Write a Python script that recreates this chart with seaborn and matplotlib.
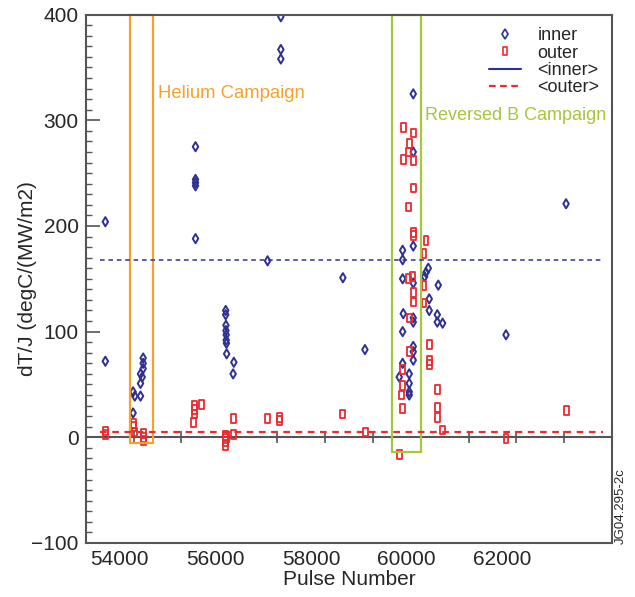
import numpy as np
import pandas as pd
import matplotlib
matplotlib.use("Agg")
import matplotlib.pyplot as plt
import seaborn as sns
from matplotlib.path import Path
from matplotlib.patches import Rectangle
from matplotlib.lines import Line2D
from matplotlib.ticker import MultipleLocator
from matplotlib.transforms import ScaledTranslation

# inner divertor points (pulse, dT/J)
inner_pulse = [53410, 53410,
               53990, 53990, 54025, 54145, 54145, 54145, 54180, 54200, 54200, 54200,
               55294, 55294, 55294, 55294, 55294,
               55925, 55925, 55930, 55930, 55935, 55935, 55940, 55945, 56095, 56080,
               56800, 57077, 57077, 57077, 58374, 58834,
               59844, 59844, 59844, 59622, 59622, 60158, 60110, 60082, 59622, 59844,
               60367, 60178, 60178, 59635, 59844, 59844, 60346, 60346, 60458, 59622,
               59844, 59844, 59844, 59622, 59760, 59551, 59760, 59760, 59760,
               61782, 63037]
inner_dtj = [204, 72,
             23, 43, 39, 39, 51, 60, 57, 65, 75, 70,
             275, 244, 241, 238, 188,
             120, 116, 106, 101, 97, 92, 89, 79, 71, 60,
             167, 398, 367, 358, 151, 83,
             325, 270, 181, 177, 168, 160, 156, 152, 150, 146,
             144, 131, 120, 117, 113, 109, 116, 109, 108, 100,
             86, 81, 73, 70, 60, 57, 51, 43, 40,
             97, 221]

# outer divertor points (pulse, dT/J)
outer_pulse = [53410, 53410,
               53990, 53990, 54025, 54200, 54200, 54200,
               55265, 55280, 55280, 55250, 55419,
               55921, 55921, 55921, 55921, 56080, 56095,
               56800, 57057, 57057, 58374, 58855,
               59635, 59844, 59760, 59740, 59635, 59844, 59844, 59754, 59844, 59844,
               60110, 60068, 59831, 59740, 60068, 59844, 59844, 60068, 59760, 60178,
               59760, 60178, 60178, 59622, 59622, 59601, 59622, 60352, 60346, 60346,
               60450, 59551,
               61782, 63037]
outer_dtj = [6, 3,
             13, 10, 5, 3.5, 0, -3,
             30, 26, 22, 14, 31,
             2, -1, -4, -8, 18, 2.5,
             18, 19, 16, 22, 5,
             293, 288, 278, 270, 263, 262, 236, 218, 194, 191,
             186, 174, 152, 150, 144, 137, 128, 127, 113, 88,
             81, 73, 69, 64, 49, 40, 27, 45, 28, 19,
             7, -16,
             -1, 25]

inner_mean = 168
outer_mean = 5
mean_span = (53300, 63800)

helium_pulses = (53920, 54410)
reversed_b_pulses = (59410, 60000)

x_ticks = [54000, 56000, 58000, 60000, 62000]
y_ticks = [-100, 0, 100, 200, 300, 400]

BLUE = "#2e3192"
RED = "#ee2a2f"
ORANGE = "#f7a12b"
GREEN = "#a4c73c"
AXIS_GRAY = "#555555"

sns.set_style("white")
plt.rcParams["font.family"] = ["Liberation Sans", "DejaVu Sans"]

# narrow hollow rectangle for outer points
rect_marker = Path([(-0.28, -0.5), (0.28, -0.5), (0.28, 0.5), (-0.28, 0.5), (-0.28, -0.5)],
                   [Path.MOVETO, Path.LINETO, Path.LINETO, Path.LINETO, Path.CLOSEPOLY])

inner_df = pd.DataFrame({"pulse": inner_pulse, "dtj": inner_dtj})
outer_df = pd.DataFrame({"pulse": outer_pulse, "dtj": outer_dtj})

fig = plt.figure(figsize=(6.35, 5.97), dpi=100)
ax = fig.add_axes([0.135, 0.0905, 0.829, 0.885])

sns.scatterplot(data=inner_df, x="pulse", y="dtj", marker="d", s=22,
                color=BLUE, facecolor="none", edgecolor=BLUE, linewidth=1.4, ax=ax)
sns.scatterplot(data=outer_df, x="pulse", y="dtj", marker=rect_marker, s=40,
                color=RED, facecolor="none", edgecolor=RED, linewidth=1.3, ax=ax)

ax.hlines(inner_mean, *mean_span, colors=BLUE, linestyles=(0, (3, 2.5)), lw=1.1)
ax.hlines(outer_mean, *mean_span, colors=RED, linestyles=(0, (3, 2.5)), lw=1.6)

# campaign boxes
ax.add_patch(Rectangle((helium_pulses[0], -5), helium_pulses[1] - helium_pulses[0], 405,
                       fill=False, edgecolor=ORANGE, lw=1.6, clip_on=False))
ax.add_patch(Rectangle((reversed_b_pulses[0], -14), reversed_b_pulses[1] - reversed_b_pulses[0], 414,
                       fill=False, edgecolor=GREEN, lw=1.6, clip_on=False))
ax.text(54500, 325, "Helium Campaign", color=ORANGE, fontsize=13.3, va="center", ha="left")
ax.text(60090, 305, "Reversed B Campaign", color=GREEN, fontsize=13, va="center", ha="left")

ax.set_xlim(53000, 64000)
ax.set_ylim(-100, 400)

# zero line with 1000-pulse ticks
zero_ax = ax.secondary_xaxis((0 - (-100)) / 500)
zero_ax.set_xticks(np.arange(53000, 64001, 1000))
zero_ax.tick_params(direction="inout", length=8, width=1.2, color=AXIS_GRAY, labelbottom=False)
zero_ax.spines["bottom"].set_color(AXIS_GRAY)
zero_ax.spines["bottom"].set_linewidth(1.5)

ax.set_xticks(x_ticks)
ax.set_yticks(y_ticks)
ax.set_yticklabels(["\u2212100", "0", "100", "200", "300", "400"])
ax.yaxis.set_minor_locator(MultipleLocator(10))
ax.tick_params(axis="x", length=0, labelsize=15, pad=5)
ax.tick_params(axis="y", which="major", direction="in", length=10, width=1.2,
               color=AXIS_GRAY, labelsize=15, pad=5, left=True)
ax.tick_params(axis="y", which="minor", direction="in", length=4.5, width=1.0,
               color=AXIS_GRAY, left=True)
shift = ScaledTranslation(-14 / 100, 0, fig.dpi_scale_trans)
for lab in ax.get_xticklabels():
    lab.set_transform(lab.get_transform() + shift)

for sp in ax.spines.values():
    sp.set_color(AXIS_GRAY)
    sp.set_linewidth(1.5)

ax.set_xlabel("Pulse Number", fontsize=15, labelpad=1)
ax.set_ylabel("dT/J (degC/(MW/m2)", fontsize=15, labelpad=-4)

handles = [
    Line2D([], [], marker="d", ls="none", mfc="none", mec=BLUE, mew=1.2, ms=5),
    Line2D([], [], marker=rect_marker, ls="none", mfc="none", mec=RED, mew=1.2, ms=6),
    Line2D([], [], color=BLUE, lw=1.5),
    Line2D([], [], color=RED, lw=1.6, ls=(0, (3, 2))),
]
ax.legend(handles, ["inner", "outer", "<inner>", "<outer>"], loc="upper right",
          bbox_to_anchor=(1.0, 1.0), frameon=False, fontsize=13, labelspacing=0.02,
          handlelength=1.8, handletextpad=0.9, borderaxespad=0.3)

fig.text(0.977, 0.152, "JG04.295-2c", rotation=90, fontsize=9.5, ha="center", va="center")

fig.savefig("out.png", dpi=100)
